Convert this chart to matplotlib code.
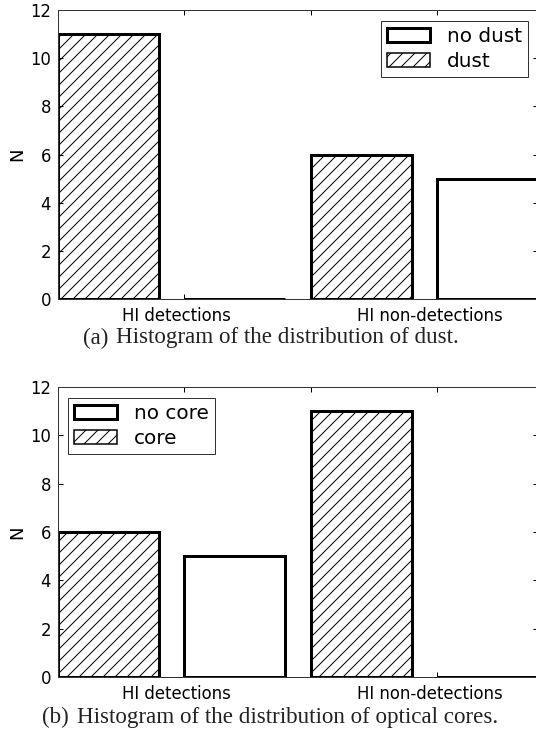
import matplotlib
matplotlib.use('Agg')
import matplotlib.pyplot as plt
import numpy as np

# data
groups = ['HI detections', 'HI non-detections']
dust = [11, 6]
no_dust = [0, 5]
core = [6, 11]
no_core = [5, 0]

W, H = 536, 733
fig = plt.figure(figsize=(W / 72, H / 72), dpi=72)
fig.patch.set_facecolor('white')


def panel(ax, yes, no, yes_label, no_label, loc, anchor):
    pos = np.arange(len(groups)) * 2
    b1 = ax.bar(pos, yes, 0.8, align='edge', color='white', edgecolor='black',
                linewidth=3, hatch='//', label=yes_label)
    b2 = ax.bar(pos + 1, no, 0.8, align='edge', color='white', edgecolor='black',
                linewidth=3, label=no_label)
    ax.set_xlim(0, 3.8)
    ax.set_ylim(0, 12)
    ax.set_yticks(range(0, 13, 2))
    ax.set_xticks([1, 2, 3])
    ax.set_xticklabels([])
    ax.set_xticks(pos + 0.94, minor=True)
    ax.set_xticklabels(groups, minor=True)
    ax.tick_params(which='major', direction='in', top=True, right=True,
                   length=5, width=1, labelsize=16.5, pad=7)
    ax.tick_params(which='minor', length=0, labelsize=16.5, pad=8)
    for s in ax.spines.values():
        s.set_linewidth(1)
        s.set_color('#333333')
    ax.set_ylabel('N', fontsize=18, labelpad=4)
    leg = ax.legend([b2, b1], [no_label, yes_label], loc=loc, bbox_to_anchor=anchor,
                    borderaxespad=0, fancybox=False, framealpha=1, edgecolor='#333333',
                    handlelength=2.15, handleheight=0.7, handletextpad=0.85,
                    labelspacing=0.3, borderpad=0.3, fontsize=20)
    leg.get_frame().set_linewidth(1)
    leg.legend_handles[1].set_linewidth(1.5)


ax1 = fig.add_axes([58 / W, 1 - 299 / H, 480 / W, 289 / H])
panel(ax1, dust, no_dust, 'dust', 'no dust', 'upper right', (0.979, 0.962))

ax2 = fig.add_axes([58 / W, 1 - 677 / H, 480 / W, 290 / H])
panel(ax2, core, no_core, 'core', 'no core', 'upper left', (0.021, 0.962))

cap = dict(fontsize=23, family='Liberation Serif', va='center', ha='left', color='#222222')
fig.text(83 / W, 1 - 338 / H, '(a)', **cap)
fig.text(116 / W, 1 - 338 / H, 'Histogram of the distribution of dust.', **cap)
fig.text(42 / W, 1 - 717 / H, '(b)', **cap)
fig.text(77 / W, 1 - 717 / H, 'Histogram of the distribution of optical cores.', **cap)

fig.savefig('out.png', dpi=72)
